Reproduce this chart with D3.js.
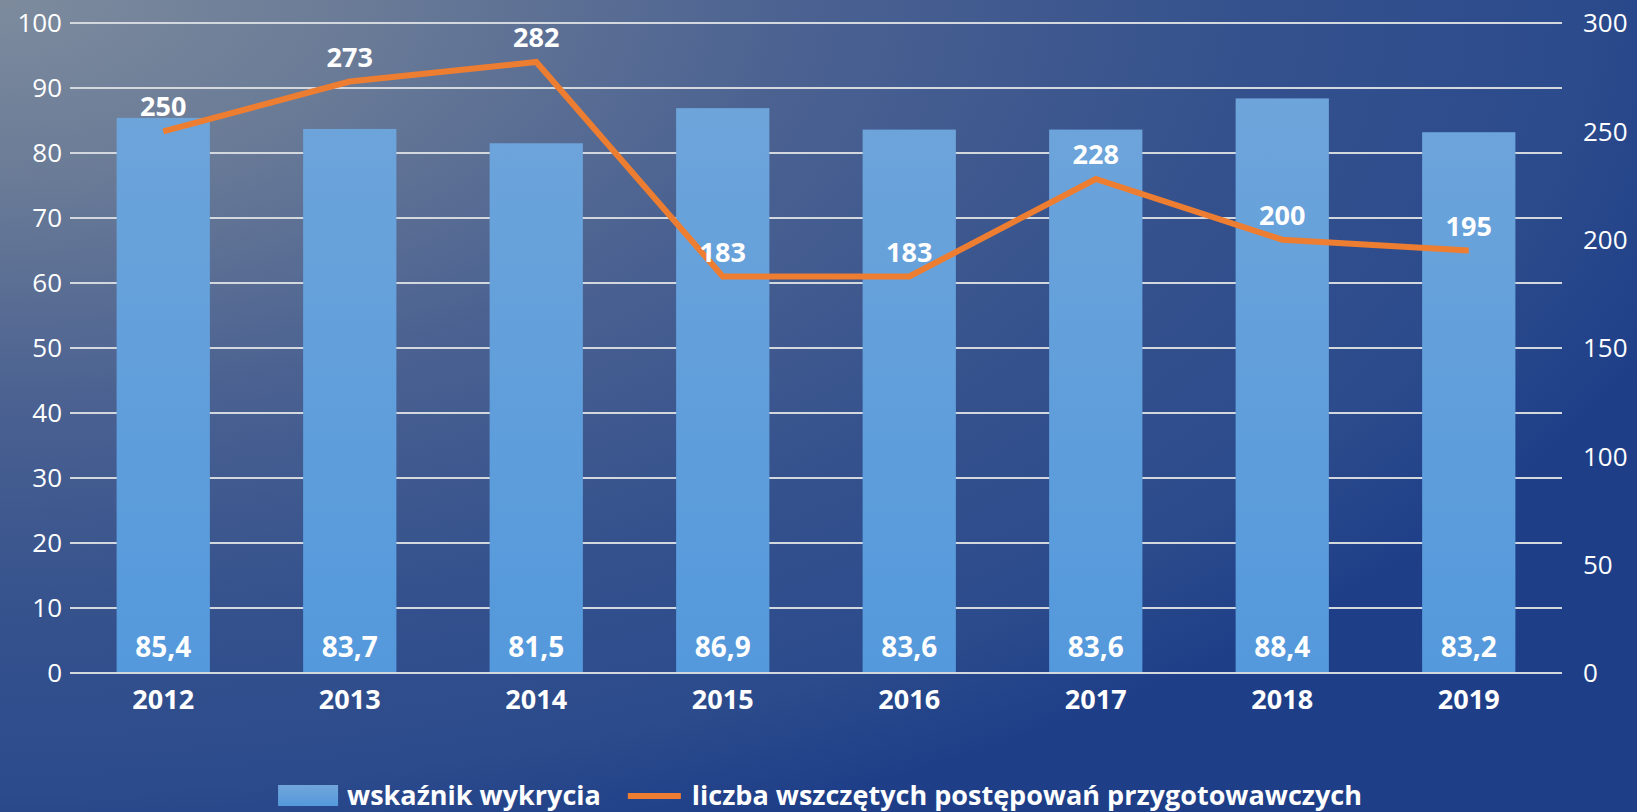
<!DOCTYPE html>
<html>
<head>
<meta charset="utf-8">
<script src="https://cdn.jsdelivr.net/npm/d3@7"></script>
<style>
  html, body { margin: 0; padding: 0; background: #1f3f86; }
  svg { display: block; }
  text { font-family: "Open Sans", "DejaVu Sans", sans-serif; fill: white; }
</style>
</head>
<body>
<svg id="chart" width="1637" height="812"></svg>
<script>
// data
var years = ["2012", "2013", "2014", "2015", "2016", "2017", "2018", "2019"];
var wskaznik = [85.4, 83.7, 81.5, 86.9, 83.6, 83.6, 88.4, 83.2];
var postepowania = [250, 273, 282, 183, 183, 228, 200, 195];
var leftTicks = [0, 10, 20, 30, 40, 50, 60, 70, 80, 90, 100];
var rightTicks = [0, 50, 100, 150, 200, 250, 300];
var seriesNames = ["wskaźnik wykrycia", "liczba wszczętych postępowań przygotowawczych"];

var width = 1637, height = 812;
var plot = {left: 70, right: 1562, top: 23, bottom: 673};

var svg = d3.select("#chart");
var defs = svg.append("defs");

// background: light slate in the top-left corner, deep blue elsewhere
var bg = defs.append("radialGradient")
    .attr("id", "bg")
    .attr("gradientUnits", "userSpaceOnUse")
    .attr("cx", 0).attr("cy", 0).attr("r", 1800)
    .attr("gradientTransform", "scale(1,0.5)");
bg.append("stop").attr("offset", "0").attr("stop-color", "#7d8b9d");
bg.append("stop").attr("offset", "0.2").attr("stop-color", "#6a7b97");
bg.append("stop").attr("offset", "0.45").attr("stop-color", "#4a6191");
bg.append("stop").attr("offset", "0.7").attr("stop-color", "#34518d");
bg.append("stop").attr("offset", "0.88").attr("stop-color", "#2c4b8c");
bg.append("stop").attr("offset", "1").attr("stop-color", "#1e3e88");

var barGrad = defs.append("linearGradient")
    .attr("id", "barGrad")
    .attr("gradientUnits", "userSpaceOnUse")
    .attr("x1", 0).attr("y1", plot.top).attr("x2", 0).attr("y2", plot.bottom);
barGrad.append("stop").attr("offset", "0").attr("stop-color", "#71a6da");
barGrad.append("stop").attr("offset", "1").attr("stop-color", "#5499dc");

var legGrad = defs.append("linearGradient")
    .attr("id", "legGrad")
    .attr("x1", 0).attr("y1", 0).attr("x2", 0).attr("y2", 1);
legGrad.append("stop").attr("offset", "0").attr("stop-color", "#71a6da");
legGrad.append("stop").attr("offset", "1").attr("stop-color", "#5499dc");

svg.append("rect")
    .attr("width", width).attr("height", height)
    .attr("fill", "url(#bg)");

var x = d3.scaleBand().domain(years).range([plot.left, plot.right])
    .paddingInner(0.5).paddingOuter(0.25);
var yL = d3.scaleLinear().domain([0, 100]).range([plot.bottom, plot.top]);
var yR = d3.scaleLinear().domain([0, 300]).range([plot.bottom, plot.top]);

// gridlines
svg.append("g").selectAll("line").data(leftTicks).enter()
    .append("line")
    .attr("x1", plot.left).attr("x2", plot.right)
    .attr("y1", function(d){ return yL(d); })
    .attr("y2", function(d){ return yL(d); })
    .attr("stroke", "#d3d7de")
    .attr("stroke-width", 2);

// left axis
var leftAxis = svg.append("g")
    .attr("transform", "translate(" + (plot.left - 8) + ",0)")
    .call(d3.axisLeft(yL).tickValues(leftTicks).tickSize(0).tickPadding(0));
leftAxis.select(".domain").remove();
leftAxis.selectAll("text")
    .attr("fill", "white")
    .attr("font-size", 26)
    .attr("font-family", "Open Sans")
    .attr("dy", "0.34em");

// right axis
var rightAxis = svg.append("g")
    .attr("transform", "translate(" + (plot.right + 21) + ",0)")
    .call(d3.axisRight(yR).tickValues(rightTicks).tickSize(0).tickPadding(0));
rightAxis.select(".domain").remove();
rightAxis.selectAll("text")
    .attr("fill", "white")
    .attr("font-size", 26)
    .attr("font-family", "Open Sans")
    .attr("dy", "0.34em");

// bars
svg.append("g").selectAll("rect").data(wskaznik).enter()
    .append("rect")
    .attr("x", function(d, i){ return x(years[i]); })
    .attr("width", x.bandwidth())
    .attr("y", function(d){ return yL(d); })
    .attr("height", function(d){ return yL(0) - yL(d); })
    .attr("fill", "url(#barGrad)");

// zero line on top of bars
svg.append("line")
    .attr("x1", plot.left).attr("x2", plot.right)
    .attr("y1", yL(0)).attr("y2", yL(0))
    .attr("stroke", "#d3d7de")
    .attr("stroke-width", 2);

// bar labels
svg.append("g").selectAll("text").data(wskaznik).enter()
    .append("text")
    .attr("x", function(d, i){ return x(years[i]) + x.bandwidth() / 2; })
    .attr("y", plot.bottom - 16)
    .attr("text-anchor", "middle")
    .attr("font-size", 28)
    .attr("font-weight", "bold")
    .text(function(d){ return d.toFixed(1).replace(".", ","); });

// x axis labels
svg.append("g").selectAll("text").data(years).enter()
    .append("text")
    .attr("x", function(d){ return x(d) + x.bandwidth() / 2; })
    .attr("y", 709)
    .attr("text-anchor", "middle")
    .attr("font-size", 27)
    .attr("font-weight", "bold")
    .text(function(d){ return d; });

// line
var line = d3.line()
    .x(function(d, i){ return x(years[i]) + x.bandwidth() / 2; })
    .y(function(d){ return yR(d); });

svg.append("path")
    .datum(postepowania)
    .attr("d", line)
    .attr("fill", "none")
    .attr("stroke", "#ed7d31")
    .attr("stroke-width", 6);

svg.append("g").selectAll("text").data(postepowania).enter()
    .append("text")
    .attr("x", function(d, i){ return x(years[i]) + x.bandwidth() / 2; })
    .attr("y", function(d){ return yR(d) - 15; })
    .attr("text-anchor", "middle")
    .attr("font-size", 27)
    .attr("font-weight", "bold")
    .text(function(d){ return d; });

// legend
var legend = svg.append("g");
var legY = 796;
var item1 = legend.append("g");
item1.append("rect")
    .attr("x", 0).attr("y", legY - 11)
    .attr("width", 60).attr("height", 21)
    .attr("fill", "url(#legGrad)");
var t1 = item1.append("text")
    .attr("x", 69).attr("y", legY + 9)
    .attr("font-size", 27)
    .attr("font-weight", "bold")
    .text(seriesNames[0]);

var w1 = 69 + t1.node().getComputedTextLength();
var item2 = legend.append("g").attr("transform", "translate(" + (w1 + 27) + ",0)");
item2.append("line")
    .attr("x1", 0).attr("x2", 53)
    .attr("y1", legY).attr("y2", legY)
    .attr("stroke", "#ed7d31")
    .attr("stroke-width", 6);
var t2 = item2.append("text")
    .attr("x", 64).attr("y", legY + 9)
    .attr("font-size", 27)
    .attr("font-weight", "bold")
    .text(seriesNames[1]);

var total = w1 + 27 + 64 + t2.node().getComputedTextLength();
legend.attr("transform", "translate(" + (820 - total / 2) + ",0)");
</script>
</body>
</html>
